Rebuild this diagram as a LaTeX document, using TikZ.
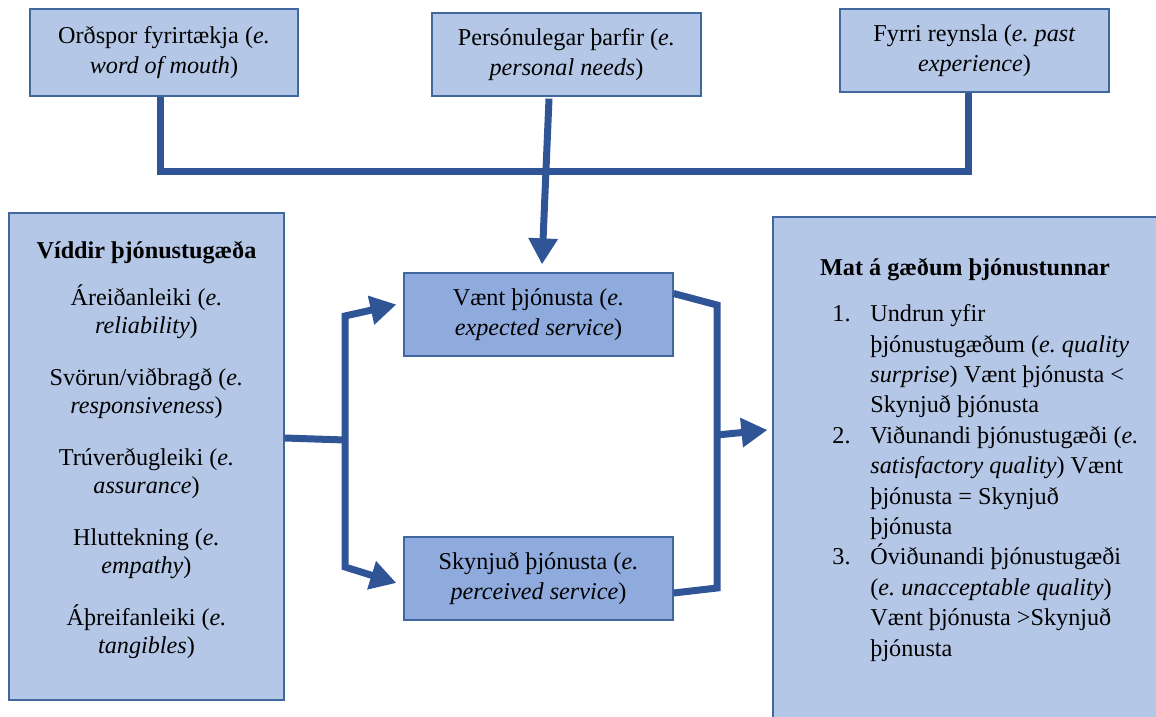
\documentclass[tikz,border=0pt]{standalone}
\usepackage{fontspec}
\setmainfont{Liberation Serif}
\usetikzlibrary{arrows.meta,calc}
\definecolor{paleblue}{HTML}{B4C7E7}
\definecolor{midblue}{HTML}{8FAADC}
\definecolor{edgeblue}{HTML}{41679F}
\definecolor{linkblue}{HTML}{2F5597}
% centred multi-line text whose baseline is that of its first line
\newcommand\cellstack[1]{\begin{tabular}[t]{@{}c@{}}#1\end{tabular}}

\begin{document}
\begin{tikzpicture}[x=0.5pt,y=-0.5pt,
  panel/.style={draw=edgeblue, line width=0.6pt, inner sep=0pt,
                font=\fontsize{12.1}{14.8}\selectfont},
  pale/.style={panel, fill=paleblue},
  mid/.style={panel, fill=midblue},
  txt/.style={inner sep=0pt, anchor=base, font=\fontsize{12.1}{14}\selectfont},
  conn/.style={draw=linkblue, line width=3.5pt},
  headed/.style={-{Triangle[width=14pt,length=13pt]}},
  bothheaded/.style={{Triangle[width=14pt,length=13pt]}-{Triangle[width=14pt,length=13pt]}},
]
\useasboundingbox (0,0) rectangle (1156,717);

% antecedents of expected service
\node[pale, minimum width=134pt, minimum height=43.5pt] (wom) at (164,52.5)
  {\cellstack{Orðspor fyrirtækja (\textit{e.}\\\textit{word of mouth})}};
\node[pale, minimum width=134.5pt, minimum height=41.5pt] (needs) at (566.5,54.5)
  {\cellstack{Persónulegar þarfir (\textit{e.}\\\textit{personal needs})}};
\node[pale, minimum width=134.5pt, minimum height=41.5pt] (past) at (974.5,50.5)
  {\cellstack{Fyrri reynsla (\textit{e.\ past}\\\textit{experience})}};

% dimensions of service quality
\node[pale, minimum width=137.5pt, minimum height=243.5pt] (dims) at (146.5,456.5) {};
\node[txt] (dimsTitle) at (146.5,258) {\bfseries Víddir þjónustugæða};
\node[txt] (d1) at (146.5,305) {\cellstack{Áreiðanleiki (\textit{e.}\\\textit{reliability})}};
\node[txt] (d2) at (146.5,385) {\cellstack{Svörun/viðbragð (\textit{e.}\\\textit{responsiveness})}};
\node[txt] (d3) at (146.5,465) {\cellstack{Trúverðugleiki (\textit{e.}\\\textit{assurance})}};
\node[txt] (d4) at (146.5,545) {\cellstack{Hluttekning (\textit{e.}\\\textit{empathy})}};
\node[txt] (d5) at (146.5,625) {\cellstack{Áþreifanleiki (\textit{e.}\\\textit{tangibles})}};

% expected and perceived service
\node[mid, minimum width=134.5pt, minimum height=41.5pt] (expected) at (538.5,314.5)
  {\cellstack{Vænt þjónusta (\textit{e.}\\\textit{expected service})}};
\node[mid, minimum width=134.5pt, minimum height=41.5pt] (perceived) at (538.5,578.5)
  {\cellstack{Skynjuð þjónusta (\textit{e.}\\\textit{perceived service})}};

% evaluation of service quality
\node[pale, minimum width=213.5pt, minimum height=271.5pt] (eval) at (986.5,488.5) {};
\node[txt] (evalTitle) at (965,275) {\bfseries Mat á gæðum þjónustunnar};
\node[txt, anchor=base west, font=\fontsize{12.1}{15.2}\selectfont] (evalList) at (832,321.7)
  {\begin{tabular}[t]{@{}p{19pt}@{}l@{}}
   1. & Undrun yfir\\
      & þjónustugæðum (\textit{e.\ quality}\\
      & \textit{surprise}) Vænt þjónusta <\\
      & Skynjuð þjónusta\\
   2. & Viðunandi þjónustugæði (\textit{e.}\\
      & \textit{satisfactory quality}) Vænt\\
      & þjónusta = Skynjuð\\
      & þjónusta\\
   3. & Óviðunandi þjónustugæði\\
      & (\textit{e.\ unacceptable quality})\\
      & Vænt þjónusta >Skynjuð\\
      & þjónusta
   \end{tabular}};

% junction points of the connectors
\coordinate (busL) at (160,171);
\coordinate (busR) at (968,171);
\coordinate (forkTop) at (345,316);
\coordinate (forkMid) at (345,440);
\coordinate (forkBot) at (345,567);
\coordinate (mTop) at (717,305);
\coordinate (mOut) at (717,435);
\coordinate (mBot) at (717,588);

% collector bus from the three antecedents
\draw[conn] (wom.south -| busL) |- (busR) -- (past.south -| busR);
\draw[conn, headed] ($(needs.south)+(-17.5,2)$) -- ($(expected.north)+(3.5,-8)$);

% dimensions feed both services
\draw[conn] ($(dims.east)+(0,-18.5)$) -- (forkMid);
\draw[conn, bothheaded] ($(expected.west)+(-7,-10)$) -- (forkTop) -- (forkBot)
  -- ($(perceived.west)+(-7,4.5)$);

% both services feed the evaluation
\draw[conn] ($(expected.east)+(0,-21)$) -- (mTop) -- (mBot) -- ($(perceived.east)+(0,14.5)$);
\draw[conn, headed] (mOut) -- ($(eval.west)+(-5,-58.5)$);
\end{tikzpicture}
\end{document}
